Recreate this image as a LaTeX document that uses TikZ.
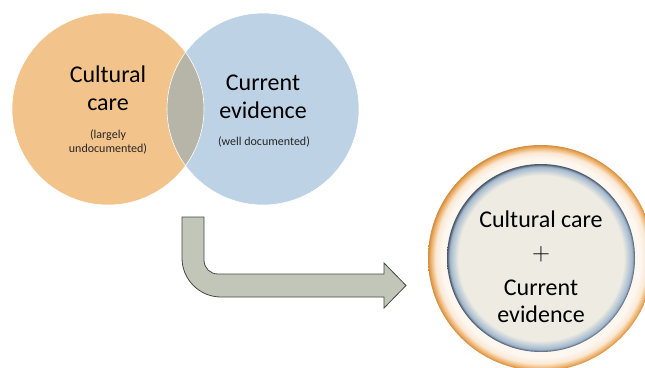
\documentclass[tikz,border=0pt]{standalone}
\usepackage{fontspec}
\setmainfont{Carlito}
\usetikzlibrary{shapes.geometric}
\definecolor{cOrange}{RGB}{242,195,138}
\definecolor{cBlue}{RGB}{189,210,228}
\definecolor{cLens}{RGB}{183,181,168}
\definecolor{cArrow}{RGB}{193,198,185}
\definecolor{cArrowLine}{RGB}{70,72,70}
\definecolor{cCream}{RGB}{238,235,226}
\definecolor{cRingIn}{RGB}{253,247,240}
\definecolor{cRingMid}{RGB}{250,232,212}
\definecolor{cRingEdge}{RGB}{238,178,108}
\definecolor{cRingRim}{RGB}{212,140,62}
\definecolor{cShadow}{RGB}{160,183,206}
\definecolor{cInLine}{RGB}{70,80,95}
\pgfdeclareradialshading{outerring}{\pgfpoint{0bp}{0bp}}{%
  color(0bp)=(cRingIn); color(22bp)=(cRingIn); color(23.4bp)=(cRingMid);
  color(24.4bp)=(cRingEdge); color(25bp)=(cRingRim); color(50bp)=(cRingRim)}
\pgfdeclareradialshading{innerdisc}{\pgfpoint{0bp}{0bp}}{%
  color(0bp)=(cCream); color(22bp)=(cCream); color(24.3bp)=(cShadow);
  color(25bp)=(cInLine); color(50bp)=(cInLine)}
\tikzset{
  big/.style={font=\fontsize{24}{29}\selectfont, anchor=base, inner sep=0pt, text=black},
  small/.style={font=\fontsize{12}{14}\selectfont, anchor=base, inner sep=0pt, text=black!85},
  disc/.style={circle, inner sep=0pt, minimum size=#1},
}
\begin{document}
\begin{tikzpicture}[x=1pt,y=-1pt]
\useasboundingbox (0,0) rectangle (645,367);
\clip (0,0) rectangle (645,367);
% Venn circles
\node[disc=192pt, fill=cOrange] (cc) at (108,109) {};
\node[disc=192pt, fill=cBlue] (ce) at (263,109) {};
\begin{scope}
  \clip (108,109) circle (96);
  \fill[cLens] (263,109) circle (96);
\end{scope}
\draw[white, line width=0.6pt] (108,109) circle (96);
\draw[white, line width=0.6pt] (263,109) circle (96);
% Venn texts
\node[big] (cc1) at (108,82) {Cultural};
\node[big] (cc2) at (108,110) {care};
\node[small] (cc3) at (108,138) {(largely};
\node[small] (cc4) at (108,152) {undocumented)};
\node[big] (ce1) at (263,90) {Current};
\node[big] (ce2) at (263,118) {evidence};
\node[small] (ce3) at (264,145) {(well documented)};
% bent arrow
\draw[fill=cArrow, draw=cArrowLine, line width=0.8pt, line join=miter]
  (182,217) -- (182,258)
  .. controls (182,279.5) and (199.5,297) .. (221,297)
  -- (384,297) -- (384,308) -- (406,285.5) -- (384,263) -- (384,274)
  -- (218,274)
  .. controls (210,274) and (204,268) .. (204,260)
  -- (204,217) -- cycle;
% result circle
\node[disc=226pt, shading=outerring] (res) at (541,258) {};
\node[disc=188pt, shading=innerdisc] (resin) at (541,258) {};
\node[big] (r1) at (541,227) {Cultural care};
\node[big] (r2) at (541,260) {$+$};
\node[big] (r3) at (541,295) {Current};
\node[big] (r4) at (541,322) {evidence};
\end{tikzpicture}
\end{document}
